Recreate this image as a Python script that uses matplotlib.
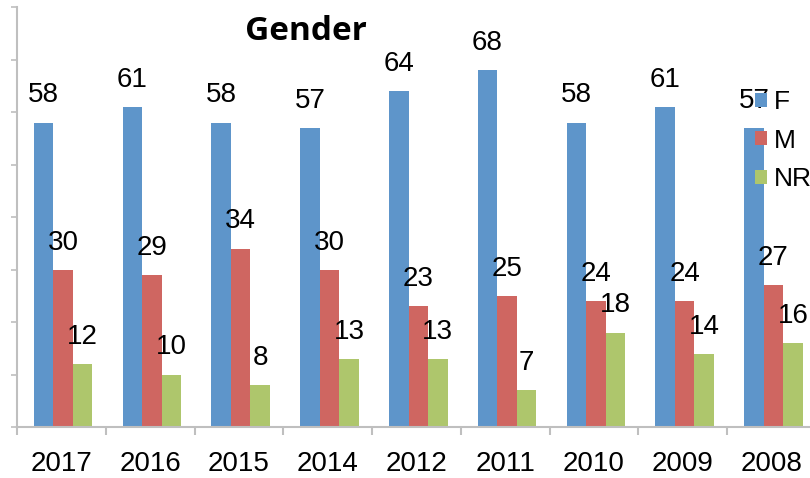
import numpy as np
import matplotlib
matplotlib.use("Agg")
import matplotlib.pyplot as plt

years = ["2017", "2016", "2015", "2014", "2012", "2011", "2010", "2009", "2008"]
female = [58, 61, 58, 57, 64, 68, 58, 61, 57]
male = [30, 29, 34, 30, 23, 25, 24, 24, 27]
no_reply = [12, 10, 8, 13, 13, 7, 18, 14, 16]

series = [("F", female, "#5E95CA"), ("M", male, "#CF6661"), ("NR", no_reply, "#AEC66C")]

plt.rcParams['font.family'] = ['Liberation Sans', 'DejaVu Sans']

fig = plt.figure(figsize=(8.1, 4.78), dpi=100)
ax = fig.add_axes([17 / 810, 51 / 478, 799 / 810, 420 / 478])

x = np.arange(len(years))
width = 0.22
for i, (name, vals, color) in enumerate(series):
    pos = x + (i - 1) * width + 0.02
    ax.bar(pos, vals, width, color=color, label=name, zorder=2)
    for px, v in zip(pos, vals):
        ax.annotate(str(v), (px, v), xytext=(0, 20), textcoords="offset pixels",
                    ha="center", va="baseline", fontsize=20, zorder=4)

ax.set_xlim(-0.5, len(years) - 0.5)
ax.set_ylim(0, 80)

grey = "#BFBFBF"
for side in ["top", "right"]:
    ax.spines[side].set_visible(False)
for side in ["left", "bottom"]:
    ax.spines[side].set_color(grey)
    ax.spines[side].set_linewidth(1.5)

ax.set_yticks(np.arange(0, 81, 10))
ax.set_yticklabels([])
ax.tick_params(axis="y", length=4, width=1.2, color=grey)

ax.set_xticks(x)
ax.set_xticklabels(years, fontsize=20)
ax.set_xticks(np.arange(-0.5, len(years), 1), minor=True)
ax.tick_params(axis="x", which="major", length=0, pad=17)
ax.tick_params(axis="x", which="minor", length=6, width=1.5, color=grey)

fig.text(306 / 810, 1 - 31 / 478, "Gender", ha="center", va="center",
         fontsize=24, fontweight="bold", family=["Open Sans", "DejaVu Sans"])

leg = ax.legend(loc="upper left", bbox_to_anchor=(755 / 810, 1 - 90 / 478),
                bbox_transform=fig.transFigure, frameon=False, fontsize=19,
                handlelength=0.45, handleheight=0.45, handletextpad=0.25,
                labelspacing=0.55, borderaxespad=0, borderpad=0)
leg.set_zorder(5)

fig.savefig("out.png", dpi=100)
